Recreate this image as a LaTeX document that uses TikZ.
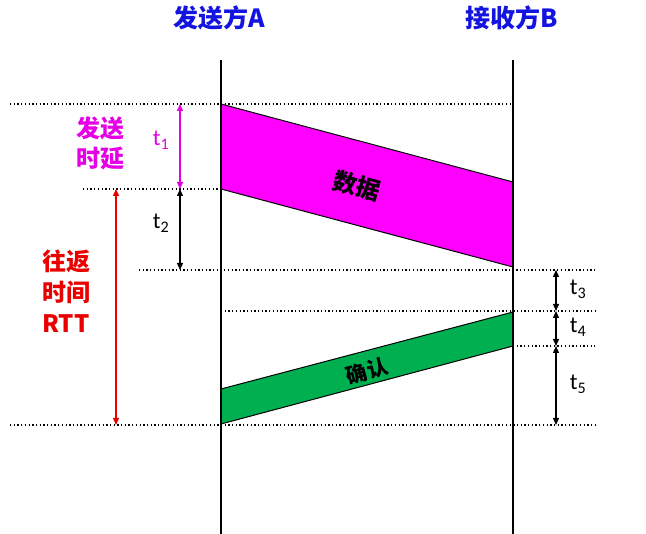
\documentclass[tikz,border=0pt]{standalone}
\usepackage{fontspec}
\newfontfamily\cjk{Noto Sans CJK SC}
\newfontfamily\tfont{Carlito}
\usetikzlibrary{arrows.meta}
\definecolor{titleblue}{RGB}{20,20,225}
\definecolor{rttred}{RGB}{235,0,0}
\definecolor{mag}{RGB}{255,0,255}
\definecolor{magtext}{RGB}{230,0,230}
\definecolor{ackgreen}{RGB}{0,176,80}
\tikzset{
  timeline/.style={line width=1.5pt},
  dotline/.style={line width=1.3pt, dash pattern=on 1.3pt off 2.4pt},
  span/.style={line width=1.3pt, {Triangle[length=7pt,width=6pt]}-{Triangle[length=7pt,width=6pt]}},
  title/.style={font=\cjk\bfseries\fontsize{25}{29}\selectfont, text=titleblue},
  tlabel/.style={font=\tfont\fontsize{23}{26}\selectfont},
  packet/.style={draw=black, line width=1pt, line join=miter},
}
\begin{document}
\begin{tikzpicture}[x=1pt,y=-1pt]
\useasboundingbox[fill=white] (0,0) rectangle (646,534);
% timelines
\coordinate (Atop) at (221,60); \coordinate (Abot) at (221,534);
\coordinate (Btop) at (513,60); \coordinate (Bbot) at (513,534);
% packets
\coordinate (d1) at (221,104); \coordinate (d2) at (513,182);
\coordinate (d3) at (513,267); \coordinate (d4) at (221,189);
\coordinate (a1) at (221,389); \coordinate (a2) at (513,312);
\coordinate (a3) at (513,346); \coordinate (a4) at (221,424);
\fill[mag] (d1) -- (d2) -- (d3) -- (d4) -- cycle;
\draw[packet] (d1) -- (d2) (d3) -- (d4);
\fill[ackgreen] (a1) -- (a2) -- (a3) -- (a4) -- cycle;
\draw[packet] (a1) -- (a2) (a3) -- (a4);
\draw[timeline] (Atop) -- (Abot);
\draw[timeline] (Btop) -- (Bbot);
% dotted guide lines
\coordinate (g1s) at (10,104);  \coordinate (g1e) at (513,104);
\coordinate (g2s) at (83,189);  \coordinate (g2e) at (221,189);
\coordinate (g3s) at (139,270); \coordinate (g3e) at (595,270);
\coordinate (g4s) at (221,311); \coordinate (g4e) at (595,311);
\coordinate (g5s) at (513,346); \coordinate (g5e) at (595,346);
\coordinate (g6s) at (10,425);  \coordinate (g6e) at (595,425);
\foreach \i in {1,...,6} \draw[dotline] (g\i s) -- (g\i e);
% titles
\node[title] (tA) at (219,18) {发送方A};
\node[title] (tB) at (512,18) {接收方B};
% packet labels
\node[font=\cjk\bfseries\fontsize{24}{28}\selectfont, rotate=-15, inner sep=0pt] (data) at (357,186) {数据};
\node[font=\cjk\bfseries\fontsize{21}{25}\selectfont, rotate=15, inner sep=0pt] (ack) at (367,371) {确认};
% span arrows
\coordinate (s1a) at (180,104); \coordinate (s1b) at (180,189);
\coordinate (s2a) at (180,189); \coordinate (s2b) at (180,270);
\coordinate (rA) at (116,189);  \coordinate (rB) at (116,425);
\coordinate (s3a) at (556,270); \coordinate (s3b) at (556,311);
\coordinate (s4a) at (556,311); \coordinate (s4b) at (556,346);
\coordinate (s5a) at (556,346); \coordinate (s5b) at (556,425);
\draw[span, draw=magtext, fill=magtext] (s1a) -- (s1b);
\draw[span] (s2a) -- (s2b);
\draw[span, draw=rttred, fill=rttred] (rA) -- (rB);
\draw[span] (s3a) -- (s3b);
\draw[span] (s4a) -- (s4b);
\draw[span] (s5a) -- (s5b);
% span labels
\node[tlabel, text=magtext] (l1) at (161,140) {t\textsubscript{1}};
\node[tlabel] (l2) at (161,223) {t\textsubscript{2}};
\node[tlabel] (l3) at (578,289) {t\textsubscript{3}};
\node[tlabel] (l4) at (578,327) {t\textsubscript{4}};
\node[tlabel] (l5) at (578,384) {t\textsubscript{5}};
% side texts
\node[font=\cjk\bfseries\fontsize{24}{30}\selectfont, text=magtext, align=center] (send) at (100,143) {发送\\时延};
\node[font=\cjk\bfseries\fontsize{24}{31}\selectfont, text=rttred, align=center] (rtt) at (66,291) {往返\\时间\\RTT};
\end{tikzpicture}
\end{document}
